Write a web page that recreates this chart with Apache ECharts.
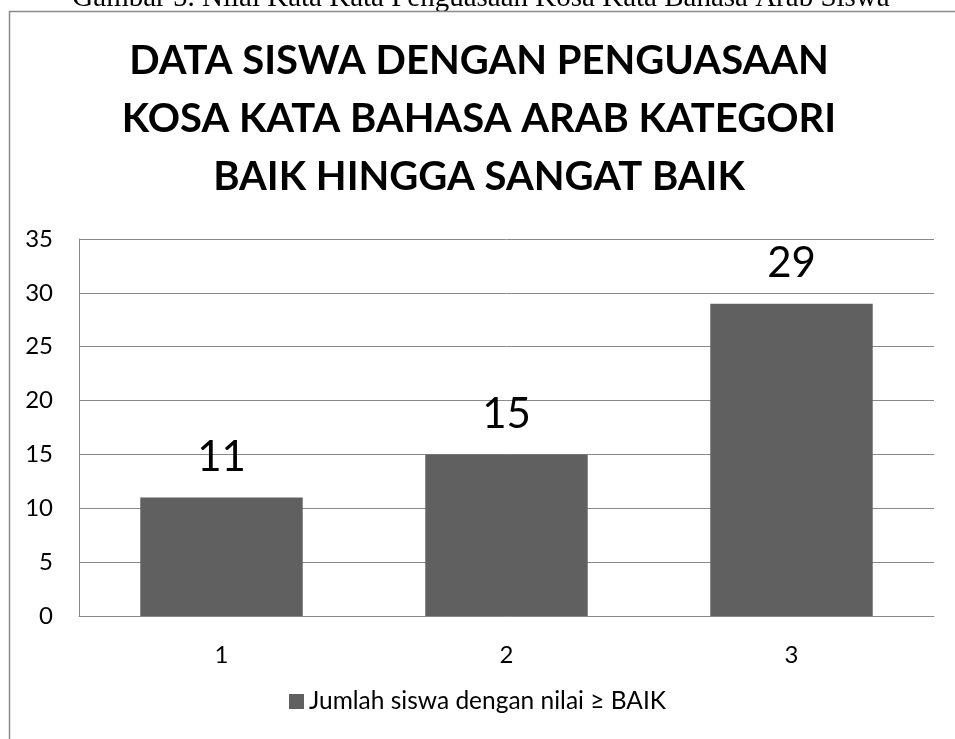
<!DOCTYPE html>
<html><head><meta charset="utf-8">
<script src="https://cdn.jsdelivr.net/npm/echarts@6/dist/echarts.min.js"></script>
<style>html,body{margin:0;padding:0;background:#fff}#c{width:955px;height:739px}</style>
</head><body><div id="c"></div>
<script>
const categories = ['1', '2', '3'];
const values = [11, 15, 29];
const seriesName = 'Jumlah siswa dengan nilai \u2265 BAIK';
const titleText = 'DATA SISWA DENGAN PENGUASAAN\nKOSA KATA BAHASA ARAB KATEGORI\nBAIK HINGGA SANGAT BAIK';
const captionText = 'Gambar 5. Nilai Kata Kata Penguasaan Kosa Kata Bahasa Arab Siswa';

const chart = echarts.init(document.getElementById('c'), null, {renderer: 'canvas'});
chart.setOption({
  backgroundColor: '#fff',
  animation: false,
  graphic: [
    {type: 'text', x: 481, y: 13, style: {text: captionText, font: '29px "Liberation Serif"', fill: '#000', textAlign: 'center', textVerticalAlign: 'bottom'}},
    {type: 'rect', shape: {x: 9.5, y: 11.5, width: 1000, height: 800}, style: {fill: 'none', stroke: '#8a8a8a', lineWidth: 1.5}},
    {type: 'text', x: 479, y: 119, style: {text: titleText, font: 'bold 40px Lato', lineHeight: 58, fill: '#000', textAlign: 'center', textVerticalAlign: 'middle'}}
  ],
  legend: {
    bottom: 20, left: 'center', itemWidth: 15, itemHeight: 15, itemGap: 6,
    icon: 'rect',
    textStyle: {fontFamily: 'Lato', fontSize: 24.5, color: '#000'},
    data: [seriesName]
  },
  grid: {left: 79, right: 21, top: 239, bottom: 123, containLabel: false},
  xAxis: {
    type: 'category', data: categories,
    axisLine: {lineStyle: {color: '#8a8a8a', width: 1}},
    axisTick: {show: false},
    axisLabel: {fontFamily: 'Lato', fontSize: 24, color: '#000', margin: 27}
  },
  yAxis: {
    type: 'value', min: 0, max: 35, interval: 5,
    axisLine: {show: true, lineStyle: {color: '#8a8a8a', width: 1}},
    axisTick: {show: false},
    splitLine: {lineStyle: {color: '#8a8a8a', width: 1}},
    axisLabel: {fontFamily: 'Lato', fontSize: 24, color: '#000', margin: 26}
  },
  series: [{
    type: 'bar', name: seriesName, data: values, barWidth: '57%',
    itemStyle: {color: '#606060'},
    label: {show: true, position: 'top', distance: 19, fontFamily: 'Lato', fontSize: 42, color: '#000'}
  }]
});
</script></body></html>
